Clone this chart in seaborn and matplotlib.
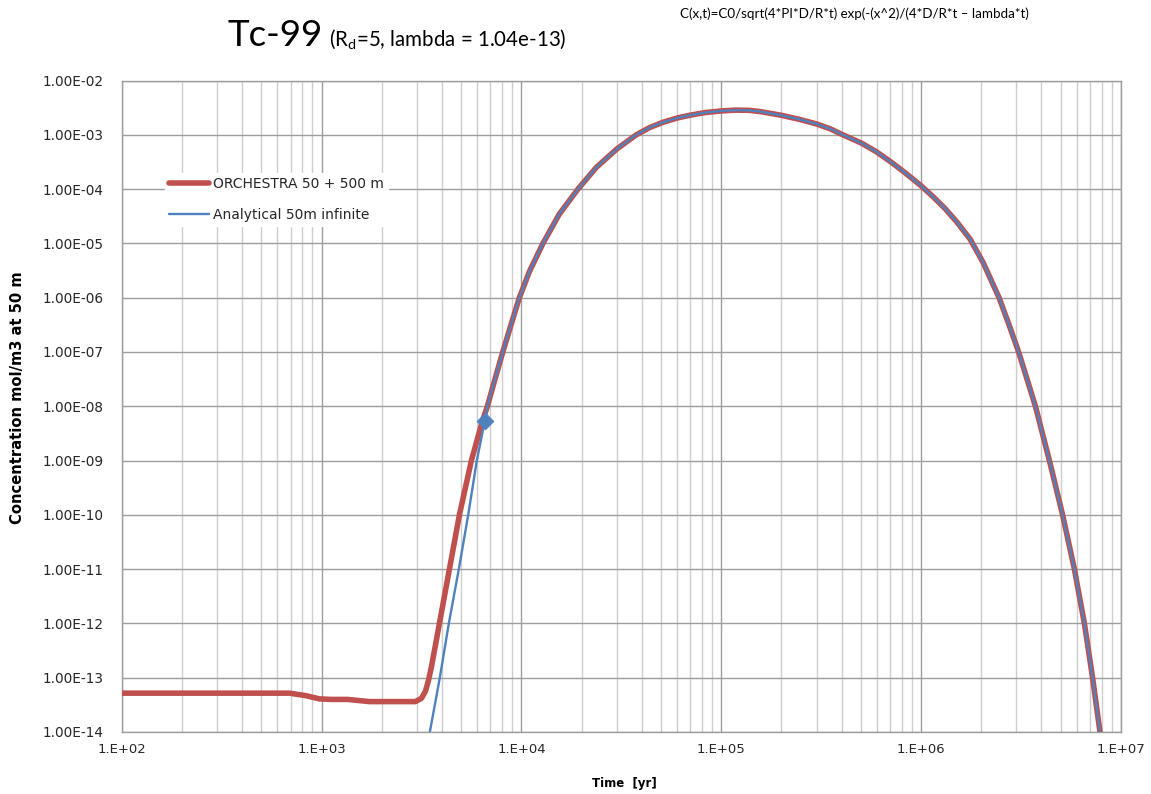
import matplotlib
matplotlib.use("Agg")
import numpy as np
import pandas as pd
import matplotlib.pyplot as plt
import seaborn as sns
from matplotlib.ticker import LogLocator, NullLocator, NullFormatter

# ---------------- data ----------------
upper_time = [6761, 7379, 8072, 8872, 9772, 10965, 12823, 15488, 19187, 23714,
              30061, 37584, 43652, 51050, 60256, 69502, 83176, 100000, 117490,
              138676, 158489, 199526, 245471, 300608, 350752, 405509, 501187,
              595662, 699842, 831764, 1000000, 1148154, 1318257, 1513561, 1757924,
              2041738, 2454709, 2754229, 3076097, 3732502, 4385307, 5105050,
              5847900, 6561600, 7211070, 7852356]
upper_conc = [1e-8, 3.16e-8, 1e-7, 3.16e-7, 1e-6, 3.02e-6, 1e-5, 3.47e-5, 1e-4, 2.51e-4,
              5.50e-4, 1e-3, 1.35e-3, 1.70e-3, 2.04e-3, 2.29e-3, 2.57e-3, 2.75e-3, 2.85e-3,
              2.82e-3, 2.66e-3, 2.29e-3, 1.93e-3, 1.58e-3, 1.29e-3, 1e-3, 7.08e-4,
              4.90e-4, 3.24e-4, 2.0e-4, 1.15e-4, 7.24e-5, 4.37e-5, 2.45e-5, 1.20e-5,
              4.47e-6, 1e-6, 3.16e-7, 1e-7, 1e-8, 1e-9, 1e-10,
              1e-11, 1e-12, 1e-13, 1e-14]

orchestra_time = [100, 316, 692, 832, 977, 1122, 1349, 1738, 2512, 2951, 3162, 3311,
                  3428, 3548, 3673, 3890, 4365, 4898, 5623, 6383] + upper_time
orchestra_conc = [5.19e-14, 5.19e-14, 5.19e-14, 4.68e-14, 4.07e-14, 3.98e-14, 3.98e-14,
                  3.63e-14, 3.63e-14, 3.63e-14, 4.17e-14, 5.62e-14,
                  8.91e-14, 1.58e-13, 3.16e-13, 1e-12, 1e-11, 1e-10, 1e-9,
                  5.37e-9] + upper_conc

analytical_time = [3483, 3908, 4335, 4864, 5420, 5984, 6561] + upper_time
analytical_conc = [1e-14, 1e-13, 1e-12, 1e-11, 1e-10, 1e-9, 5.37e-9] + upper_conc

marker_time = [6561]
marker_conc = [5.37e-9]

x_tick_values = [1e2, 1e3, 1e4, 1e5, 1e6, 1e7]
x_tick_labels = ["1.E+02", "1.E+03", "1.E+04", "1.E+05", "1.E+06", "1.E+07"]
y_tick_values = [1e-14, 1e-13, 1e-12, 1e-11, 1e-10, 1e-9, 1e-8, 1e-7,
                 1e-6, 1e-5, 1e-4, 1e-3, 1e-2]
y_tick_labels = ["1.00E-14", "1.00E-13", "1.00E-12", "1.00E-11", "1.00E-10",
                 "1.00E-09", "1.00E-08", "1.00E-07", "1.00E-06", "1.00E-05",
                 "1.00E-04", "1.00E-03", "1.00E-02"]

label_orchestra = "ORCHESTRA 50 + 500 m"
label_analytical = "Analytical 50m infinite"

# ---------------- style ----------------
sns.set_theme(style="white")
plt.rcParams["font.family"] = ["DejaVu Sans"]
TITLE_FONT = ["Lato", "DejaVu Sans"]

RED = "#C0504D"
BLUE = "#4F81BD"
TXT = "#262626"

fig = plt.figure(figsize=(11.51, 7.94), dpi=100)
ax = fig.add_axes([0.1057, 0.0781, 0.8682, 0.8205])

df_o = pd.DataFrame({"Time": orchestra_time, "Conc": orchestra_conc})
df_a = pd.DataFrame({"Time": analytical_time, "Conc": analytical_conc})

sns.lineplot(data=df_o, x="Time", y="Conc", ax=ax, color=RED, linewidth=4.0,
             sort=False, estimator=None, label=label_orchestra, zorder=3)
sns.lineplot(data=df_a, x="Time", y="Conc", ax=ax, color=BLUE, linewidth=1.7,
             sort=False, estimator=None, label=label_analytical, zorder=4)
sns.scatterplot(x=marker_time, y=marker_conc, ax=ax, marker="D", s=75,
                color=BLUE, edgecolor=BLUE, linewidth=0.5, legend=False, zorder=5)

ax.set_xscale("log")
ax.set_yscale("log")
ax.set_xlim(1e2, 1e7)
ax.set_ylim(1e-14, 1e-2)

ax.set_xticks(x_tick_values)
ax.set_xticklabels(x_tick_labels)
ax.set_yticks(y_tick_values)
ax.set_yticklabels(y_tick_labels)
ax.xaxis.set_minor_locator(LogLocator(base=10, subs=np.arange(2, 10)))
ax.xaxis.set_minor_formatter(NullFormatter())
ax.yaxis.set_minor_locator(NullLocator())

ax.grid(which="major", axis="both", color="#9E9E9E", linewidth=1.0)
ax.grid(which="minor", axis="x", color="#CDCDCD", linewidth=1.0)
ax.set_axisbelow(True)

ax.tick_params(which="both", length=0, labelcolor=TXT)
ax.tick_params(axis="x", labelsize=9.5, pad=8)
ax.tick_params(axis="y", labelsize=9.8, pad=13)
for s in ax.spines.values():
    s.set_color("#9E9E9E")
    s.set_linewidth(1.0)

ax.set_xlabel("")
ax.set_ylabel("")

leg = ax.legend(loc="upper left", bbox_to_anchor=(165 / 1151, 1 - 173 / 794),
                bbox_transform=fig.transFigure, frameon=True, fancybox=False,
                fontsize=10, handlelength=2.9, handletextpad=0.25,
                labelspacing=1.2, borderpad=0.3, borderaxespad=0)
leg.get_frame().set_facecolor("white")
leg.get_frame().set_edgecolor("white")
leg.get_frame().set_alpha(1)
for t in leg.get_texts():
    t.set_color(TXT)

# ---------------- texts ----------------
fig.text(228 / 1151, 1 - 46 / 794, "Tc-99", fontsize=26.5, color="black",
         va="baseline", family=TITLE_FONT)
fig.text(329 / 1151, 1 - 46 / 794, r"(R$_\mathregular{d}$=5, lambda = 1.04e-13)",
         fontsize=14.8, color="black", va="baseline", family=TITLE_FONT)
fig.text(680 / 1151, 1 - 14 / 794,
         "C(x,t)=C0/sqrt(4*PI*D/R*t) exp(-(x^2)/(4*D/R*t \u2013 lambda*t)",
         fontsize=9.6, color="black", va="center", family=TITLE_FONT)
fig.text(18 / 1151, 1 - 398 / 794, "Concentration mol/m3 at 50 m", rotation=90,
         fontsize=10.6, fontweight="bold", color="black", ha="center", va="center")
fig.text(624 / 1151, 1 - 783 / 794, "Time  [yr]", fontsize=8.5, fontweight="bold",
         color="black", ha="center", va="center")

fig.savefig("out.png", dpi=100, facecolor="white")
